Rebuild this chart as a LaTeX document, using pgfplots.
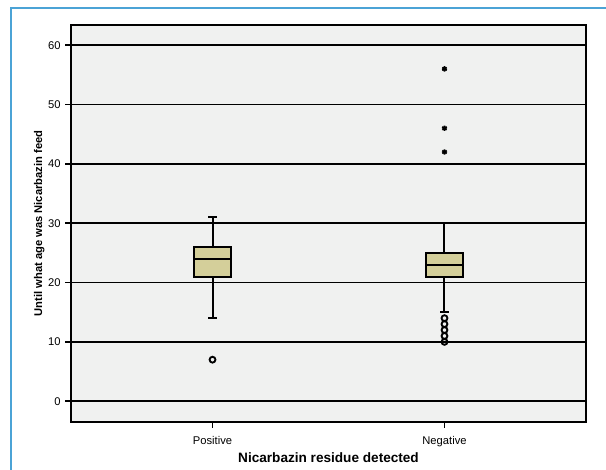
\documentclass[border=0pt]{standalone}
\usepackage{pgfplots}
\pgfplotsset{compat=1.18}
\usepgfplotslibrary{statistics}
\usepackage{fontspec}
\setmainfont{Liberation Sans}
\definecolor{frameblue}{HTML}{4BA3D6}
\definecolor{panelgrey}{HTML}{F0F1F0}
\definecolor{boxtan}{HTML}{D4CF9A}
\begin{document}
\begin{tikzpicture}
\path[use as bounding box] (0,0) rectangle (454.5pt,352.5pt);
\draw[frameblue, line width=1.1pt] (8.25pt,-4pt) -- (8.25pt,346.5pt) -- (460pt,346.5pt);
\begin{axis}[
  at={(53.25pt,36pt)}, anchor=south west,
  scale only axis, width=386.25pt, height=297.75pt,
  xmin=-0.61, xmax=1.61, ymin=-3.5, ymax=63.4,
  axis background/.style={fill=panelgrey},
  axis line style={line width=1.6pt},
  xtick={0,1}, xticklabels={Positive,Negative},
  ytick={0,10,...,60},
  tick align=outside, major tick length=4.2pt,
  tick style={line width=1.4pt, black},
  xtick pos=bottom, ytick pos=left,
  ymajorgrids, grid style={line width=1.2pt, black},
  xticklabel style={font=\fontsize{8.4}{9}\selectfont, yshift=-3pt},
  yticklabel style={font=\fontsize{8.4}{9}\selectfont},
  /pgf/number format/assume math mode=true,
  xlabel={\bfseries Nicarbazin residue detected},
  xlabel style={font=\fontsize{10.2}{12}\selectfont, yshift=2.5pt},
  ylabel={\bfseries Until what age was Nicarbazin feed},
  ylabel style={font=\fontsize{8.4}{10}\selectfont, yshift=-4pt},
  boxplot/draw direction=y,
  boxplot/box extend=0.156,
  boxplot/whisker extend=0.036,
  every boxplot/.style={line width=1.5pt, draw=black, fill=boxtan,
    mark=o, mark size=2.2pt,
    mark options={line width=1.4pt, draw=black, fill=white}},
  clip=false,
]
% Positive group, with its outlier
\addplot[boxplot prepared={
  draw position=0, lower whisker=14, lower quartile=21,
  median=24, upper quartile=26, upper whisker=31}]
  table[row sep=\\, y index=0] {7\\};
% Negative group, with its outliers
\addplot[boxplot prepared={
  draw position=1, lower whisker=15, lower quartile=21,
  median=23, upper quartile=25, upper whisker=30}]
  table[row sep=\\, y index=0] {10\\ 11\\ 12\\ 13\\ 14\\};
% extreme values
\addplot[only marks, mark=asterisk, mark size=2pt, mark options={line width=1.3pt, black}]
  coordinates {(1,42) (1,46) (1,56)};
\end{axis}
\end{tikzpicture}
\end{document}
